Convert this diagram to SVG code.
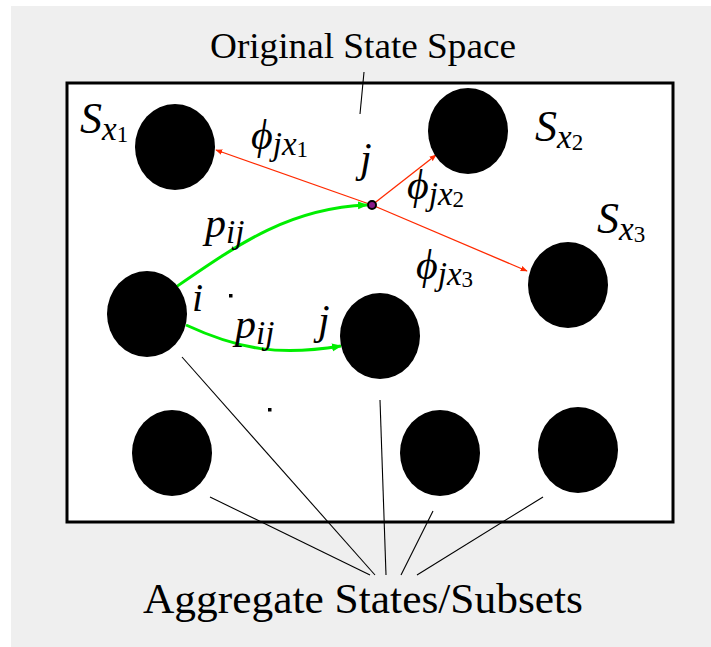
<svg xmlns="http://www.w3.org/2000/svg" width="711" height="647" viewBox="0 0 711 647">
<defs>
<marker id="ar" viewBox="0 0 10 10" refX="9" refY="5" markerWidth="7" markerHeight="7" markerUnits="userSpaceOnUse" orient="auto"><path d="M0,1 L10,5 L0,9 Z" fill="#ff2a00"/></marker>
<marker id="ag" viewBox="0 0 10 10" refX="9" refY="5" markerWidth="10" markerHeight="10" markerUnits="userSpaceOnUse" orient="auto"><path d="M0,1 L10,5 L0,9 Z" fill="#00ee00"/></marker>
</defs>
<rect x="0" y="0" width="711" height="647" fill="#fff"/>
<rect x="11" y="6" width="700" height="641" fill="#efefef"/>
<rect x="67" y="83" width="606" height="439" fill="#fff" stroke="#000" stroke-width="3"/>
<text x="363" y="58" font-family="Liberation Serif" font-size="36" text-anchor="middle" textLength="306" lengthAdjust="spacingAndGlyphs">Original State Space</text>
<text x="363" y="613" font-family="Liberation Serif" font-size="42" text-anchor="middle" textLength="440" lengthAdjust="spacingAndGlyphs">Aggregate States/Subsets</text>
<g id="connectors" fill="none">
<g stroke="#000" stroke-width="1.1">
<line x1="364" y1="72" x2="360" y2="114"/>
<line x1="182" y1="357" x2="375" y2="575"/>
<line x1="380" y1="400" x2="386" y2="575"/>
<line x1="210" y1="497" x2="370" y2="575"/>
<line x1="433" y1="511" x2="401" y2="575"/>
<line x1="543" y1="497" x2="417" y2="575"/>
</g>
<g stroke="#ff2a00" stroke-width="1.3" marker-end="url(#ar)">
<line x1="372" y1="205" x2="216" y2="150"/>
<line x1="372" y1="205" x2="436" y2="155"/>
<line x1="372" y1="205" x2="527" y2="271"/>
</g>
<g stroke="#00ee00" stroke-width="3" marker-end="url(#ag)">
<path d="M176,287 C240,243 290,208 367,205"/>
<path d="M186,325 C240,350 280,356 341,346"/>
</g>
</g>
<g id="Sx1"><ellipse cx="175" cy="147" rx="40" ry="43"/></g>
<g id="Sx2"><ellipse cx="468" cy="131" rx="40" ry="43"/></g>
<g id="Sx3"><ellipse cx="568" cy="285" rx="40" ry="43"/></g>
<g id="i"><ellipse cx="147" cy="314" rx="40" ry="43"/></g>
<g id="j2"><ellipse cx="380" cy="336" rx="40" ry="43"/></g>
<g id="b1"><ellipse cx="172" cy="453" rx="40" ry="43"/></g>
<g id="b2"><ellipse cx="440" cy="453" rx="40" ry="43"/></g>
<g id="b3"><ellipse cx="578" cy="450" rx="40" ry="43"/></g>
<g id="j"><circle cx="372" cy="205" r="4" fill="#8a1a8a" stroke="#000" stroke-width="2"/></g>
<rect x="229" y="294" width="3.5" height="3.5" fill="#000"/>
<rect x="268" y="408" width="3.5" height="3.5" fill="#000"/>
<g id="labels">
<text x="80" y="133" font-family="Liberation Serif" font-style="italic" font-size="44">S<tspan font-size="33" dy="7">x</tspan><tspan font-style="normal" font-size="23" dy="2">1</tspan></text>
<text x="535" y="141" font-family="Liberation Serif" font-style="italic" font-size="44">S<tspan font-size="33" dy="7">x</tspan><tspan font-style="normal" font-size="23" dy="2">2</tspan></text>
<text x="597" y="233" font-family="Liberation Serif" font-style="italic" font-size="44">S<tspan font-size="33" dy="7">x</tspan><tspan font-style="normal" font-size="23" dy="2">3</tspan></text>
<text x="251" y="149" font-family="Liberation Serif" font-style="italic" font-size="42">ϕ<tspan font-size="33" dy="6">jx</tspan><tspan font-style="normal" font-size="23" dy="2">1</tspan></text>
<text x="407" y="199" font-family="Liberation Serif" font-style="italic" font-size="42">ϕ<tspan font-size="33" dy="6">jx</tspan><tspan font-style="normal" font-size="23" dy="2">2</tspan></text>
<text x="416" y="279" font-family="Liberation Serif" font-style="italic" font-size="42">ϕ<tspan font-size="33" dy="6">jx</tspan><tspan font-style="normal" font-size="23" dy="2">3</tspan></text>
<text x="360" y="172" font-family="Liberation Serif" font-style="italic" font-size="42">j</text>
<text x="318" y="334" font-family="Liberation Serif" font-style="italic" font-size="42">j</text>
<text x="192" y="311" font-family="Liberation Serif" font-style="italic" font-size="40">i</text>
<text x="205" y="237" font-family="Liberation Serif" font-style="italic" font-size="42">p<tspan font-size="33" dy="6">ij</tspan></text>
<text x="235" y="338" font-family="Liberation Serif" font-style="italic" font-size="42">p<tspan font-size="33" dy="6">ij</tspan></text>
</g>
</svg>
